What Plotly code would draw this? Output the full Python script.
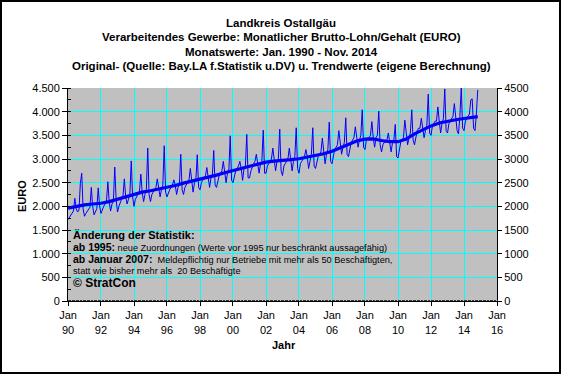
import plotly.graph_objects as go
import pandas as pd

# ---------------- data ----------------
v1990 = [1720, 1760, 1800, 1850, 1900, 2170, 1950, 1880, 1920, 2480, 2700, 1950]
v1991 = [1790, 1850, 1900, 1930, 1980, 2400, 2000, 1820, 1900, 1950, 2390, 2010]
v1992 = [1850, 1950, 2000, 2050, 2100, 2520, 2100, 1900, 2050, 2100, 2830, 2150]
v1993 = [1880, 2000, 2100, 2150, 2200, 2580, 2200, 2050, 2150, 2250, 2960, 2200]
v1994 = [2000, 2150, 2200, 2280, 2300, 2680, 2300, 2100, 2250, 2350, 3230, 2250]
v1995 = [2100, 2250, 2300, 2350, 2400, 2580, 2400, 2200, 2350, 2450, 3280, 2300]
v1996 = [2200, 2300, 2350, 2400, 2450, 2560, 2450, 2250, 2400, 2450, 3100, 2350]
v1997 = [2250, 2400, 2450, 2500, 2550, 2800, 2500, 2300, 2500, 2550, 3090, 2400]
v1998 = [2350, 2500, 2550, 2600, 2650, 2820, 2600, 2400, 2600, 2650, 3180, 2450]
v1999 = [2400, 2550, 2650, 2700, 2750, 2950, 2700, 2500, 2700, 2750, 3490, 2550]
v2000 = [2500, 2650, 2750, 2800, 2850, 2950, 2800, 2550, 2800, 2850, 3520, 2600]
v2001 = [2600, 2750, 2850, 2900, 2950, 3100, 2900, 2700, 2900, 2950, 3610, 2700]
v2002 = [2700, 2850, 2900, 2950, 3000, 3230, 2950, 2750, 2950, 3000, 3630, 2750]
v2003 = [2650, 2850, 2900, 2950, 3000, 3230, 3000, 2750, 2950, 3050, 3660, 2800]
v2004 = [2700, 2900, 2950, 3000, 3050, 3200, 3050, 2800, 3000, 3100, 3660, 2850]
v2005 = [2800, 2950, 3050, 3100, 3150, 3440, 3100, 2900, 3100, 3200, 3780, 2950]
v2006 = [2900, 3100, 3200, 3250, 3300, 3600, 3300, 3100, 3250, 3350, 3870, 3100]
v2007 = [3050, 3250, 3350, 3400, 3450, 3680, 3450, 3250, 3400, 3500, 4040, 3250]
v2008 = [3200, 3400, 3450, 3450, 3500, 3790, 3450, 3250, 3450, 3500, 4010, 3300]
v2009 = [3150, 3300, 3350, 3350, 3400, 3550, 3350, 3150, 3350, 3400, 3730, 3050]
v2010 = [3020, 3250, 3350, 3400, 3450, 3820, 3500, 3300, 3450, 3550, 4040, 3400]
v2011 = [3300, 3500, 3600, 3650, 3650, 3860, 3650, 3450, 3600, 3700, 4370, 3550]
v2012 = [3500, 3700, 3750, 3800, 3800, 4100, 3800, 3550, 3750, 3850, 4480, 3600]
v2013 = [3550, 3750, 3800, 3850, 3900, 4170, 3850, 3600, 3530, 3900, 4510, 3650]
v2014 = [3600, 3800, 3850, 3900, 3950, 4250, 4270, 3650, 3600, 3950, 4460]

original = (v1990 + v1991 + v1992 + v1993 + v1994 + v1995 + v1996 + v1997 + v1998 +
            v1999 + v2000 + v2001 + v2002 + v2003 + v2004 + v2005 + v2006 + v2007 +
            v2008 + v2009 + v2010 + v2011 + v2012 + v2013 + v2014)
months = pd.date_range("1990-01-01", periods=len(original), freq="MS")

trend_dates = ["1990-01-01", "1990-07-01", "1991-01-01", "1991-07-01", "1992-01-01", "1992-07-01",
               "1993-01-01", "1993-07-01", "1994-01-01", "1994-07-01", "1995-01-01", "1995-07-01",
               "1996-01-01", "1996-07-01", "1997-01-01", "1997-07-01", "1998-01-01", "1998-07-01",
               "1999-01-01", "1999-07-01", "2000-01-01", "2000-07-01", "2001-01-01", "2001-07-01",
               "2002-01-01", "2002-07-01", "2003-01-01", "2003-07-01", "2004-01-01", "2004-07-01",
               "2005-01-01", "2005-07-01", "2006-01-01", "2006-07-01", "2007-01-01", "2007-07-01",
               "2008-01-01", "2008-07-01", "2009-01-01", "2009-07-01", "2010-01-01", "2010-07-01",
               "2011-01-01", "2011-07-01", "2012-01-01", "2012-07-01", "2013-01-01", "2013-07-01",
               "2014-01-01", "2014-07-01", "2014-11-01"]
trend_values = [1960, 2000, 2030, 2050, 2065, 2100, 2150, 2200, 2245, 2300, 2330, 2365,
                2400, 2440, 2490, 2530, 2575, 2620, 2660, 2710, 2755, 2800, 2850, 2895,
                2935, 2955, 2965, 2985, 3005, 3040, 3070, 3110, 3165, 3240, 3310, 3380,
                3420, 3425, 3390, 3365, 3365, 3420, 3530, 3620, 3700, 3760, 3800, 3830,
                3855, 3880, 3895]

tick_dates = ["1990-01-01", "1992-01-01", "1994-01-01", "1996-01-01", "1998-01-01",
              "2000-01-01", "2002-01-01", "2004-01-01", "2006-01-01", "2008-01-01",
              "2010-01-01", "2012-01-01", "2014-01-01", "2016-01-01"]
tick_labels = ["Jan<br>90", "Jan<br>92", "Jan<br>94", "Jan<br>96", "Jan<br>98", "Jan<br>00",
               "Jan<br>02", "Jan<br>04", "Jan<br>06", "Jan<br>08", "Jan<br>10", "Jan<br>12",
               "Jan<br>14", "Jan<br>16"]

title_lines = ["Landkreis Ostallgäu",
               "Verarbeitendes Gewerbe: Monatlicher Brutto-Lohn/Gehalt (EURO)",
               "Monatswerte: Jan. 1990 - Nov. 2014",
               "Original- (Quelle: Bay.LA f.Statistik u.DV) u. Trendwerte (eigene Berechnung)"]

FONT = "Liberation Sans, Arial, sans-serif"
BLUE = "#0000FF"

# plot area in pixels: x 68..497, y 88..301
PL, PR, PT, PB = 68, 497, 88, 301
W, H = 561, 375
def px(x):
    return (x - PL) / (PR - PL)
def py(y):
    return (PB - y) / (PB - PT)

fig = go.Figure()
fig.add_trace(go.Scatter(x=months, y=original, mode="lines",
                         line=dict(color=BLUE, width=1), showlegend=False, hoverinfo="skip"))
fig.add_trace(go.Scatter(x=trend_dates, y=trend_values, mode="lines",
                         line=dict(color=BLUE, width=3.2), showlegend=False, hoverinfo="skip"))
# carrier for the right-hand axis
fig.add_trace(go.Scatter(x=trend_dates, y=trend_values, mode="lines", yaxis="y2",
                         line=dict(color="rgba(0,0,0,0)", width=0), showlegend=False,
                         hoverinfo="skip"))

annotations = []
title_y = [23, 37, 52, 66]
for t, yy in zip(title_lines, title_y):
    annotations.append(dict(text="<b>%s</b>" % t, xref="paper", yref="paper",
                            x=px(281), y=py(yy), xanchor="center", yanchor="middle",
                            showarrow=False, font=dict(family=FONT, size=11.5, color="black")))

annotations.append(dict(text="<b>EURO</b>", xref="paper", yref="paper", x=px(22), y=py(196),
                        xanchor="center", yanchor="middle", textangle=-90, showarrow=False,
                        font=dict(family=FONT, size=11, color="black")))
annotations.append(dict(text="<b>Jahr</b>", xref="paper", yref="paper", x=px(284), y=py(345),
                        xanchor="center", yanchor="middle", showarrow=False,
                        font=dict(family=FONT, size=11, color="black")))

note_lines = [
    ("<b>Änderung der Statistik:</b>", 235, 11),
    ("<b><span style='font-size:10.5px'>ab 1995:</span></b> neue Zuordnungen (Werte vor 1995 nur beschränkt aussagefähig)", 246.5, 9.2),
    ("<b><span style='font-size:10.5px'>ab Januar 2007:</span></b>  Meldepflichtig nur Betriebe mit mehr als 50 Beschäftigten,", 258.5, 9.2),
    ("statt wie bisher mehr als  20 Beschäftigte", 270.5, 9.2),
    ("<b>© StratCon</b>", 282.5, 12),
]
for t, yy, sz in note_lines:
    annotations.append(dict(text=t, xref="paper", yref="paper", x=px(71), y=py(yy),
                            xanchor="left", yanchor="middle", showarrow=False, align="left",
                            font=dict(family=FONT, size=sz, color="black")))

fig.update_layout(
    width=W, height=H,
    margin=dict(l=PL, r=W - PR, t=PT, b=H - PB, pad=0),
    paper_bgcolor="white", plot_bgcolor="#C0C0C0",
    separators=",.",
    font=dict(family=FONT, size=11, color="black"),
    annotations=annotations,
    shapes=[dict(type="rect", xref="paper", yref="paper",
                 x0=px(1), x1=px(560), y0=py(373), y1=py(1),
                 line=dict(color="black", width=2), fillcolor="rgba(0,0,0,0)", layer="above")],
    xaxis=dict(type="date", range=["1990-01-01", "2016-01-01"],
               tickvals=tick_dates, ticktext=tick_labels,
               showgrid=True, gridcolor="#00FFFF", gridwidth=1,
               showline=True, linecolor="black", linewidth=1,
               ticks="outside", ticklen=4, tickcolor="black",
               minor=dict(dtick="M1", ticks="inside", ticklen=1, tickcolor="#333333", showgrid=False),
               tickfont=dict(family=FONT, size=11, color="black"),
               zeroline=False, fixedrange=True),
    yaxis=dict(range=[0, 4500], dtick=500, tick0=0, tickformat=",d",
               showgrid=True, gridcolor="#00FFFF", gridwidth=1,
               showline=True, linecolor="black", linewidth=1,
               ticks="outside", ticklen=5, tickcolor="black",
               minor=dict(dtick=250, ticks="inside", ticklen=3, tickcolor="black", showgrid=False),
               tickfont=dict(family=FONT, size=11, color="black"),
               zeroline=False, fixedrange=True),
    yaxis2=dict(range=[0, 4500], dtick=500, tick0=0, tickformat="d", overlaying="y", side="right",
                showgrid=False, showline=True, linecolor="black", linewidth=1,
                ticks="outside", ticklen=4, tickcolor="black",
                tickfont=dict(family=FONT, size=11, color="black"), zeroline=False,
                fixedrange=True),
)

fig.write_html("out.html", config={"displayModeBar": False, "staticPlot": True},
               post_script="document.body.style.margin='0';document.body.style.overflow='hidden';")
